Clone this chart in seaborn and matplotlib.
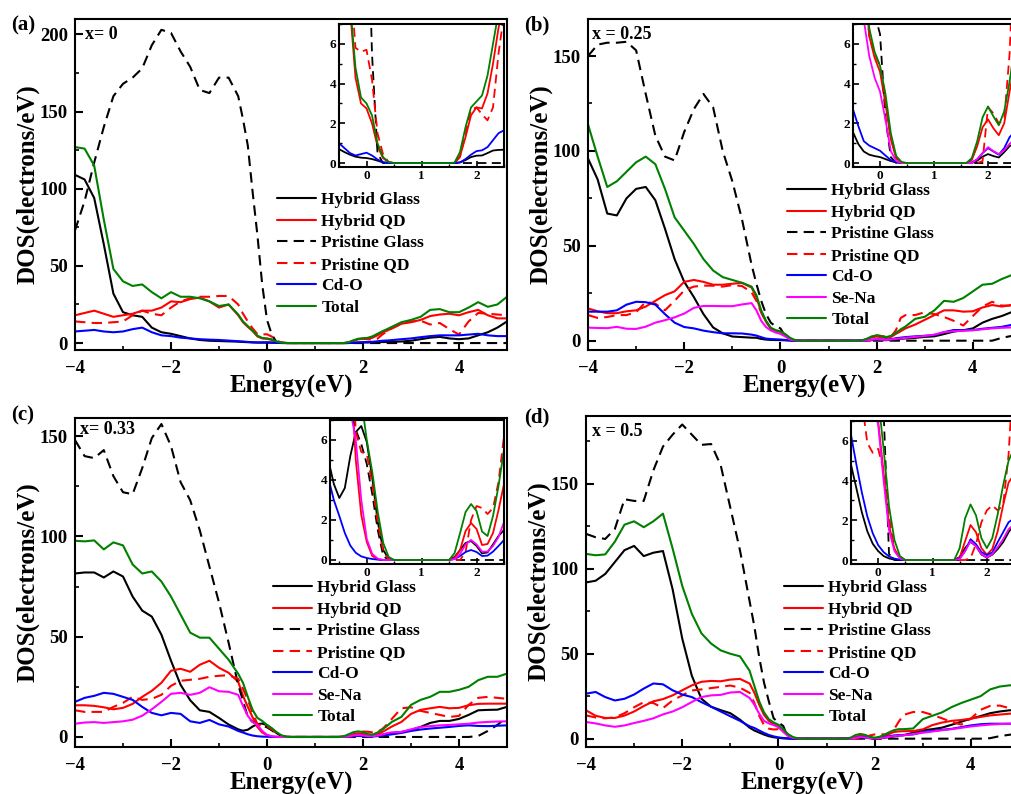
import matplotlib
matplotlib.use("Agg")
import matplotlib.pyplot as plt
import seaborn as sns
from matplotlib.ticker import MultipleLocator

sns.set_style("ticks", {
    "axes.edgecolor": "black",
    "xtick.color": "black",
    "ytick.color": "black",
    "text.color": "black",
    "axes.labelcolor": "black",
    "xtick.direction": "in",
    "ytick.direction": "in",
})
plt.rcParams["font.family"] = ["Liberation Serif", "DejaVu Serif"]
plt.rcParams["font.weight"] = "bold"
plt.rcParams["axes.labelweight"] = "bold"
plt.rcParams["axes.linewidth"] = 1.5

# energy grid (eV), finer around the gap so the insets use the same data
E = [-4.0, -3.8, -3.6, -3.4, -3.2, -3.0, -2.8, -2.6, -2.4, -2.2, -2.0, -1.8, -1.6, -1.4, -1.2, -1.0, -0.8, -0.6,
     -0.5, -0.4, -0.3, -0.2, -0.1, 0.0, 0.1, 0.2, 0.3, 0.4,
     0.5, 0.6, 0.7, 0.8, 0.9, 1.0, 1.1, 1.2, 1.3, 1.4,
     1.5, 1.6, 1.7, 1.8, 1.9, 2.0, 2.1, 2.2, 2.3, 2.4, 2.5, 2.6,
     2.8, 3.0, 3.2, 3.4, 3.6, 3.8, 4.0, 4.2, 4.4, 4.6, 4.8, 5.0]

# ---- (a) x = 0
a_hybrid_glass = [109, 106, 94, 64, 32, 20, 18, 17, 10, 7, 6, 4.5, 3, 2, 1.5, 1.3, 1.1, 0.9,
                  0.7, 0.55, 0.42, 0.32, 0.27, 0.25, 0.2, 0.12, 0.03, 0,
                  0, 0, 0, 0, 0, 0, 0, 0, 0, 0,
                  0, 0, 0.03, 0.15, 0.3, 0.37, 0.38, 0.5, 0.63, 0.66, 0.67, 0.8,
                  1.0, 1.5, 2.5, 3.5, 4.0, 3.0, 2.5, 3.0, 5.0, 7.0, 10, 14]
a_hybrid_qd = [18, 19.5, 21, 19, 17, 18, 19, 21, 21, 23, 27, 26.5, 28.5, 29.5, 27, 23, 25, 18,
               13.5, 10.5, 7.8, 4.3, 3.0, 2.75, 2.0, 0.85, 0.25, 0.04,
               0, 0, 0, 0, 0, 0, 0, 0, 0, 0,
               0, 0, 0.35, 1.3, 2.4, 2.8, 2.75, 3.5, 5.0, 6.8, 8.0, 9.5,
               12.5, 13.5, 15, 17.5, 18.5, 19, 18, 20, 21.5, 18, 16, 16]
a_pristine_glass = [73, 92, 117, 140, 160, 168, 172, 178, 193, 203, 201, 189, 179, 164, 162, 172, 172, 160,
                    145, 128, 98, 70, 38, 15, 5.5, 0.5, 0, 0,
                    0, 0, 0, 0, 0, 0, 0, 0, 0, 0,
                    0, 0, 0, 0, 0, 0, 0, 0, 0, 0, 0, 0,
                    0, 0, 0, 0, 0, 0, 0, 0, 0, 0, 0, 0]
a_pristine_qd = [14, 13.5, 13, 13, 13.5, 14, 18, 21, 19, 18, 23, 27, 29, 30, 30, 30.5, 30.5, 25,
                 19, 14, 9.5, 5.8, 5.6, 5.7, 4.2, 1.5, 0.45, 0.05,
                 0, 0, 0, 0, 0, 0, 0, 0, 0, 0,
                 0, 0, 0.3, 1.5, 2.7, 2.8, 2.45, 2.15, 2.8, 5.5, 7.5, 9.5,
                 12.5, 14, 14.5, 12, 13, 9, 5.5, 14, 19.5, 19, 18.5, 18]
a_cdo = [7.5, 8, 8.5, 7.5, 7, 7.5, 9, 10, 7, 5, 4.5, 3.5, 3, 2.5, 2.2, 2, 1.6, 1.2,
         1.0, 0.75, 0.5, 0.38, 0.45, 0.52, 0.38, 0.18, 0.04, 0,
         0, 0, 0, 0, 0, 0, 0, 0, 0, 0,
         0, 0, 0.03, 0.2, 0.42, 0.6, 0.64, 0.8, 1.15, 1.5, 1.65, 1.9,
         2.5, 3, 3.8, 4.5, 5, 5, 5, 5.5, 6, 5, 4.5, 4.5]
a_total = [127, 126, 115, 80, 48, 40, 37, 38, 33, 29, 33, 30, 30, 29, 27, 24, 25, 18.5,
           14, 11, 8, 4.8, 3.3, 3.0, 2.4, 1.0, 0.3, 0.05,
           0, 0, 0, 0, 0, 0, 0, 0, 0, 0,
           0, 0.02, 0.55, 1.8, 2.8, 3.1, 3.4, 4.4, 6.0, 7.6, 9.0, 10.5,
           13.5, 15, 17, 21.5, 22, 20, 20, 23, 26.5, 23.5, 25, 30]

# ---- (b) x = 0.25
b_hybrid_glass = [96, 85, 67, 66, 75, 80, 81, 74, 59, 43, 31, 23, 14, 7, 3.9, 2.2, 1.9, 1.6,
                  1.55, 0.95, 0.58, 0.42, 0.35, 0.3, 0.2, 0.1, 0.03, 0,
                  0, 0, 0, 0, 0, 0, 0, 0, 0, 0,
                  0, 0, 0, 0.12, 0.32, 0.45, 0.35, 0.28, 0.55, 0.85, 1.0, 1.2,
                  1.5, 2, 2.3, 3.5, 4.8, 5.5, 6.5, 9.5, 11.5, 13, 15, 16]
b_hybrid_qd = [17, 15.5, 14.5, 14.5, 15.5, 16, 18, 21, 24, 26, 31, 32, 31, 29.5, 29.5, 30, 30.5, 28,
               23, 15, 10, 6.4, 5.3, 4.6, 3.0, 1.2, 0.22, 0.03,
               0, 0, 0, 0, 0, 0, 0, 0, 0, 0,
               0, 0, 0.15, 0.85, 1.8, 2.2, 1.75, 1.4, 2.0, 3.6, 5.0, 6.5,
               8.5, 11, 13.5, 16, 16, 15.3, 15.5, 17.5, 18.8, 18, 18.8, 19]
b_pristine_glass = [150, 156, 157, 157, 157.5, 153, 130, 108, 97, 95, 110, 122, 130, 123, 100, 84, 64, 40,
                    30, 21, 14, 9.5, 7.5, 6.5, 2.3, 0.3, 0, 0,
                    0, 0, 0, 0, 0, 0, 0, 0, 0, 0,
                    0, 0, 0, 0, 0, 0, 0, 0, 0, 0, 0, 0,
                    0, 0, 0, 0, 0, 0, 0, 0, 0, 1.5, 2.5, 3.0]
b_pristine_qd = [13.5, 12, 12.5, 13.5, 13.5, 15, 20.5, 19.5, 16, 21, 26.5, 28.5, 29, 29, 28.5, 29.3, 28.8, 25.5,
                 21, 15, 10, 6.4, 5.5, 4.9, 3.0, 1.3, 0.3, 0.03,
                 0, 0, 0, 0, 0, 0, 0, 0, 0, 0,
                 0, 0, 0, 0, 0.1, 2.8, 2.5, 2.0, 2.2, 5.5, 12, 13.5,
                 13.5, 15, 14, 12.5, 10.5, 8, 13, 18, 20.5, 18.5, 18.5, 19]
b_cdo = [15.3, 15.3, 15.3, 16, 19, 20.5, 20.3, 19, 14, 9.5, 7.2, 6.5, 5.3, 4.5, 3.9, 3.9, 3.8, 3.2,
         2.7, 1.85, 1.1, 0.88, 0.75, 0.62, 0.38, 0.15, 0.05, 0,
         0, 0, 0, 0, 0, 0, 0, 0, 0, 0,
         0, 0, 0.03, 0.18, 0.5, 0.75, 0.58, 0.42, 0.75, 1.3, 1.6, 1.9,
         2.3, 2.6, 3.0, 4.5, 5.6, 5.6, 5.6, 6.3, 6.8, 7.3, 8.3, 8.5]
b_sena = [6.9, 6.7, 6.6, 7.3, 6.3, 6.2, 7.4, 9.5, 10.8, 12.3, 14.3, 17.3, 18.3, 18.3, 18.2, 18.2, 19.1, 19.8,
          16, 10.5, 7.2, 5.4, 4.3, 3.6, 2.2, 0.6, 0.1, 0,
          0, 0, 0, 0, 0, 0, 0, 0, 0, 0,
          0, 0, 0, 0.2, 0.5, 0.8, 0.6, 0.45, 0.65, 0.97, 1.2, 1.5,
          2.0, 2.5, 3.2, 4.5, 5.0, 5.2, 5.5, 6.0, 6.5, 6.8, 7.0, 7.3]
b_total = [114, 97, 81, 84, 89, 94, 97, 93, 80, 65, 58, 51, 43, 37, 33.5, 32, 30.5, 28.5,
           24, 16, 10.5, 6.8, 5.6, 4.9, 3.5, 1.5, 0.35, 0.05,
           0, 0, 0, 0, 0, 0, 0, 0, 0, 0,
           0, 0, 0.25, 1.1, 2.3, 2.85, 2.35, 1.9, 2.6, 4.1, 6.0, 7.5,
           11.5, 12.6, 16, 21, 20.5, 22.5, 26, 29.5, 30, 32.5, 34.5, 36]

# ---- (c) x = 0.33
c_hybrid_glass = [81.5, 82, 82, 79.5, 82.5, 80, 70, 63, 60, 51, 38, 26, 18.3, 13.3, 12.5, 9.5, 6.2, 3.8,
                  3.1, 3.6, 5.2, 6.4, 6.7, 5.9, 4.1, 1.9, 0.5, 0.05,
                  0, 0, 0, 0, 0, 0, 0, 0, 0, 0,
                  0, 0.15, 0.5, 0.85, 0.95, 0.7, 0.33, 0.38, 0.78, 1.2, 1.5, 1.9,
                  2.5, 3.5, 5, 7, 8, 8, 9, 11, 13.3, 13.5, 13.6, 15]
c_hybrid_qd = [15.8, 15.8, 15.5, 14.8, 13.8, 14.5, 16.5, 20, 23, 27, 33, 34, 32.5, 36, 38, 34.5, 32, 27.5,
               20.5, 15, 9.8, 5.0, 2.25, 0.9, 0.2, 0.04, 0, 0,
               0, 0, 0, 0, 0, 0, 0, 0, 0, 0,
               0, 0.1, 0.5, 1.45, 1.85, 1.55, 0.75, 0.8, 1.35, 2.5, 3.8, 5.2,
               7.5, 11.5, 13.5, 14.3, 15, 14.3, 14.5, 15.8, 16.5, 16.6, 16.6, 16.6]
c_pristine_glass = [148, 140, 139, 143, 130, 122, 121, 134, 149, 156, 145, 127, 118, 103, 85, 67, 47, 26,
                    18, 10, 7.5, 6.5, 5.8, 4.8, 3.3, 1.5, 0.2, 0,
                    0, 0, 0, 0, 0, 0, 0, 0, 0, 0,
                    0, 0, 0, 0, 0, 0, 0, 0, 0, 0, 0, 0,
                    0, 0, 0, 0, 0, 0, 0, 0, 0.5, 3, 6, 10]
c_pristine_qd = [13.3, 12.5, 12.5, 12.5, 15, 17, 20, 18.5, 19, 21, 25.5, 28, 28.5, 29, 30, 30.5, 30.8, 29,
                 24, 18.5, 12, 6.4, 5.4, 5.3, 3.8, 1.9, 0.42, 0.04,
                 0, 0, 0, 0, 0, 0, 0, 0, 0, 0,
                 0, 0, 0, 0.4, 2.0, 2.7, 2.6, 2.3, 2.6, 3.9, 6.2, 9,
                 14.3, 14.8, 13, 12, 11, 10, 10.5, 16, 19.5, 20, 19.5, 19]
c_cdo = [17.5, 19.5, 20.5, 22, 21.5, 20, 18.5, 15, 12, 10.8, 12, 11.5, 7.8, 7, 8.5, 6.3, 5.2, 3.0,
         2.2, 1.35, 0.72, 0.36, 0.18, 0.1, 0.05, 0.02, 0, 0,
         0, 0, 0, 0, 0, 0, 0, 0, 0, 0,
         0, 0.05, 0.2, 0.4, 0.5, 0.4, 0.2, 0.22, 0.42, 0.7, 1.0, 1.3,
         2, 3, 3.7, 4.2, 4.6, 5, 5.5, 5.8, 5.5, 5.4, 5.6, 5.8]
c_sena = [6.6, 7.2, 7.4, 7, 7.4, 7.8, 8.6, 10.6, 13.8, 17.5, 21.5, 22, 21, 22, 24.8, 22.8, 22.5, 21,
          15.5, 10.5, 7.5, 6.0, 3.0, 1.05, 0.3, 0.07, 0, 0,
          0, 0, 0, 0, 0, 0, 0, 0, 0, 0,
          0, 0.05, 0.3, 0.78, 1.0, 0.78, 0.42, 0.42, 0.7, 1.15, 1.9, 2.3,
          2.5, 3.8, 5, 5.4, 5.8, 6.0, 6.3, 6.6, 7.2, 7.5, 7.7, 7.8]
c_total = [97.8, 97.5, 98, 93.5, 97, 95.5, 86, 81.5, 82.5, 77.5, 70, 61, 52, 49.5, 49.5, 44, 38.5, 31.5,
           27, 20, 13.5, 9.5, 8.0, 6.0, 4.4, 2.4, 0.85, 0.15,
           0, 0, 0, 0, 0, 0, 0, 0, 0, 0,
           0, 0.35, 1.35, 2.4, 2.8, 2.45, 1.42, 1.2, 2.2, 3.7, 5.5, 7.5,
           10, 16, 18.5, 20, 22.5, 22.5, 23.5, 25, 28.3, 30, 30, 31.6]

# ---- (d) x = 0.5
d_hybrid_glass = [92, 93, 97, 104, 111, 113.5, 107.5, 109.5, 110.5, 88, 59, 37, 23.5, 18.8, 16.8, 15, 11.2, 6.5,
                  4.8, 3.6, 2.4, 1.45, 0.82, 0.45, 0.2, 0.08, 0.02, 0,
                  0, 0, 0, 0, 0, 0, 0, 0, 0, 0,
                  0.15, 0.6, 0.92, 0.7, 0.28, 0.12, 0.27, 0.55, 0.9, 1.4, 1.8, 2.0,
                  3.5, 5, 5.6, 6.5, 8.2, 10, 11.8, 13.3, 15, 16, 16.7, 17]
d_hybrid_qd = [16.7, 13.5, 12.2, 12.2, 13.6, 16, 19.2, 22, 23.3, 25.5, 28.5, 31.4, 33.5, 34, 33.8, 34.8, 35.2, 32.5,
               27, 20, 14, 10.5, 8.6, 7.0, 4.4, 1.76, 0.55, 0.1,
               0, 0, 0, 0, 0, 0, 0, 0, 0, 0,
               0.12, 0.95, 1.76, 1.4, 0.6, 0.27, 0.55, 1.45, 2.76, 3.9, 4.3, 4.4,
               4.5, 5.5, 8, 9.5, 10.5, 11, 11.8, 12.8, 13.7, 14.2, 14.7, 15]
d_pristine_glass = [120.6, 118.6, 117.6, 123.5, 141, 140, 140, 158, 172, 179, 185, 179, 173, 173.5, 161, 136, 111, 81,
                    66, 48, 33, 22, 12, 9.5, 7.5, 0.3, 0, 0,
                    0, 0, 0, 0, 0, 0, 0, 0, 0, 0,
                    0, 0, 0, 0, 0, 0, 0, 0, 0, 0, 0, 0,
                    0, 0, 0, 0, 0, 0, 0, 0, 0.3, 1.5, 2.3, 3]
d_pristine_qd = [13.7, 12.5, 12, 12.5, 15, 18.5, 21.5, 21, 18, 22.5, 25.5, 28.4, 29, 29.8, 30.5, 31.3, 30, 27,
                 21, 13.5, 8, 5.9, 5.4, 5.6, 4.5, 2.2, 0.55, 0.04,
                 0, 0, 0, 0, 0, 0, 0, 0, 0, 0,
                 0, 0, 0.1, 0.8, 1.9, 2.5, 2.75, 2.5, 2.76, 5.3, 10, 14,
                 15.7, 15.7, 14, 12, 9.8, 8.3, 11.8, 17, 19.3, 19.5, 18, 17.5]
d_cdo = [26.5, 27.5, 24.5, 22.5, 23.5, 26, 29.5, 32.5, 32, 28.5, 26, 24.5, 21.5, 18.8, 16, 13.2, 10.5, 7.3,
         6.3, 4.8, 3.4, 2.2, 1.35, 0.75, 0.4, 0.18, 0.07, 0.02,
         0, 0, 0, 0, 0, 0, 0, 0, 0, 0,
         0.08, 0.45, 1.05, 0.8, 0.4, 0.25, 0.38, 0.9, 1.4, 1.9, 2.1, 2.2,
         2.5, 3.9, 4.6, 5.2, 5.8, 6.8, 7.8, 8.5, 8.8, 8.8, 8.8, 9]
d_sena = [9.8, 9, 7.8, 7, 7.8, 9.2, 10.5, 12, 14.3, 16, 18.5, 21.6, 24.5, 25.5, 25.8, 27.2, 27.5, 24,
          20, 14.7, 10.5, 9.0, 8.0, 6.8, 4.0, 1.5, 0.45, 0.08,
          0, 0, 0, 0, 0, 0, 0, 0, 0, 0,
          0.05, 0.45, 0.95, 0.7, 0.3, 0.12, 0.3, 0.65, 1.05, 1.55, 1.8, 2.0,
          2.7, 3.5, 4.2, 5, 5.6, 6.4, 7.2, 7.8, 8.3, 8.6, 8.8, 9]
d_total = [108.8, 108, 108.5, 116, 126, 128, 124.5, 128, 132.5, 112, 90, 73.5, 62, 56, 52, 50, 48.5, 40,
           31, 22, 15.5, 11.5, 9.5, 8.2, 5.6, 2.7, 1.0, 0.2,
           0, 0, 0, 0, 0, 0, 0, 0, 0, 0,
           0.6, 2.1, 2.8, 2.25, 1.1, 0.6, 1.1, 2.3, 3.76, 5.0, 5.6, 5.6,
           6, 11.5, 13.5, 15.5, 18.6, 21, 23, 25, 29, 30.7, 31.4, 31.6]

BLACK, RED, BLUE, MAG, GREEN = "black", "#ff0000", "#0000ff", "#ff00ff", "#008000"
SOLID, DASH = "-", (0, (5, 3))

W, H = 1011, 794
fig = plt.figure(figsize=(W / 100, H / 100), dpi=100)


def px_axes(l, t, r, b):
    return fig.add_axes([l / W, 1 - b / H, (r - l) / W, (b - t) / H])


def panel(box, series, ylim, ymax_tick, tag, tag_xy, xtext, xtext_pos, inset_box, inset_xlim, leg_px):
    ax = px_axes(*box)
    for name, vals, col, ls in series:
        sns.lineplot(x=E, y=vals, ax=ax, color=col, linestyle=ls, lw=1.5,
                     label=name, errorbar=None, sort=False)
    ax.set_xlim(-4, 5)
    ax.set_ylim(*ylim)
    ax.set_yticks(range(0, ymax_tick + 1, 50))
    ax.xaxis.set_major_locator(MultipleLocator(2))
    ax.xaxis.set_minor_locator(MultipleLocator(1))
    ax.yaxis.set_minor_locator(MultipleLocator(25))
    ax.tick_params(which="major", length=6, width=1.5, labelsize=13.5)
    ax.tick_params(axis="x", which="major", pad=7)
    ax.tick_params(axis="y", which="major", pad=5)
    ax.tick_params(which="minor", length=3, width=1.2)
    ax.set_xlabel("Energy(eV)", fontsize=18, labelpad=-1)
    ax.set_ylabel("DOS(electrons/eV)", fontsize=18, labelpad=0)
    ax.text(xtext_pos[0], xtext_pos[1], xtext, transform=ax.transAxes,
            fontsize=13, fontweight="bold", va="top", ha="left")
    fig.text(tag_xy[0] / W, 1 - tag_xy[1] / H, tag, fontsize=15, fontweight="bold", va="top")

    l, t, r, b = box
    lx = (leg_px[0] - l) / (r - l)
    ly = (b - leg_px[1]) / (b - t)
    ax.legend(loc="upper left", bbox_to_anchor=(lx, ly), frameon=False, fontsize=12.5,
              handlelength=2.25, handletextpad=0.3, labelspacing=0.31,
              borderpad=0, borderaxespad=0)

    ins = px_axes(*inset_box)
    for name, vals, col, ls in series:
        sns.lineplot(x=E, y=vals, ax=ins, color=col, linestyle=ls, lw=1.3,
                     errorbar=None, sort=False, legend=False)
    ins.set_xlim(*inset_xlim)
    ins.set_ylim(-0.2, 7)
    ins.set_xticks([0, 1, 2])
    ins.set_yticks([0, 2, 4, 6])
    ins.xaxis.set_minor_locator(MultipleLocator(0.5))
    ins.yaxis.set_minor_locator(MultipleLocator(1))
    ins.tick_params(which="major", length=4, width=1.2, labelsize=9.5, pad=2)
    ins.tick_params(which="minor", length=2, width=1.0)
    ins.set_xlabel("")
    ins.set_ylabel("")
    return ax


panel((75, 19, 507, 350),
      [("Hybrid Glass", a_hybrid_glass, BLACK, SOLID),
       ("Hybrid QD", a_hybrid_qd, RED, SOLID),
       ("Pristine Glass", a_pristine_glass, BLACK, DASH),
       ("Pristine QD", a_pristine_qd, RED, DASH),
       ("Cd-O", a_cdo, BLUE, SOLID),
       ("Total", a_total, GREEN, SOLID)],
      (-4.5, 210), 200, "(a)", (11, 15), "x= 0", (0.023, 0.98),
      (339, 24, 504, 167), (-0.5, 2.5), (277, 192))

panel((588, 19, 1021, 350),
      [("Hybrid Glass", b_hybrid_glass, BLACK, SOLID),
       ("Hybrid QD", b_hybrid_qd, RED, SOLID),
       ("Pristine Glass", b_pristine_glass, BLACK, DASH),
       ("Pristine QD", b_pristine_qd, RED, DASH),
       ("Cd-O", b_cdo, BLUE, SOLID),
       ("Se-Na", b_sena, MAG, SOLID),
       ("Total", b_total, GREEN, SOLID)],
      (-4.9, 169.5), 150, "(b)", (524, 15), "x = 0.25", (0.009, 0.978),
      (853, 24, 1015, 167), (-0.5, 2.5), (787, 183))

panel((75, 418, 507, 747),
      [("Hybrid Glass", c_hybrid_glass, BLACK, SOLID),
       ("Hybrid QD", c_hybrid_qd, RED, SOLID),
       ("Pristine Glass", c_pristine_glass, BLACK, DASH),
       ("Pristine QD", c_pristine_qd, RED, DASH),
       ("Cd-O", c_cdo, BLUE, SOLID),
       ("Se-Na", c_sena, MAG, SOLID),
       ("Total", c_total, GREEN, SOLID)],
      (-5, 159), 150, "(c)", (11, 405), "x= 0.33", (0.012, 0.99),
      (330, 420, 504, 564), (-0.67, 2.5), (273, 580))

panel((586, 416, 1019, 747),
      [("Hybrid Glass", d_hybrid_glass, BLACK, SOLID),
       ("Hybrid QD", d_hybrid_qd, RED, SOLID),
       ("Pristine Glass", d_pristine_glass, BLACK, DASH),
       ("Pristine QD", d_pristine_qd, RED, DASH),
       ("Cd-O", d_cdo, BLUE, SOLID),
       ("Se-Na", d_sena, MAG, SOLID),
       ("Total", d_total, GREEN, SOLID)],
      (-4.9, 190), 150, "(d)", (524, 407), "x = 0.5", (0.014, 0.978),
      (851, 421, 1014, 564), (-0.5, 2.5), (784, 580))

fig.savefig("out.png", dpi=100)
